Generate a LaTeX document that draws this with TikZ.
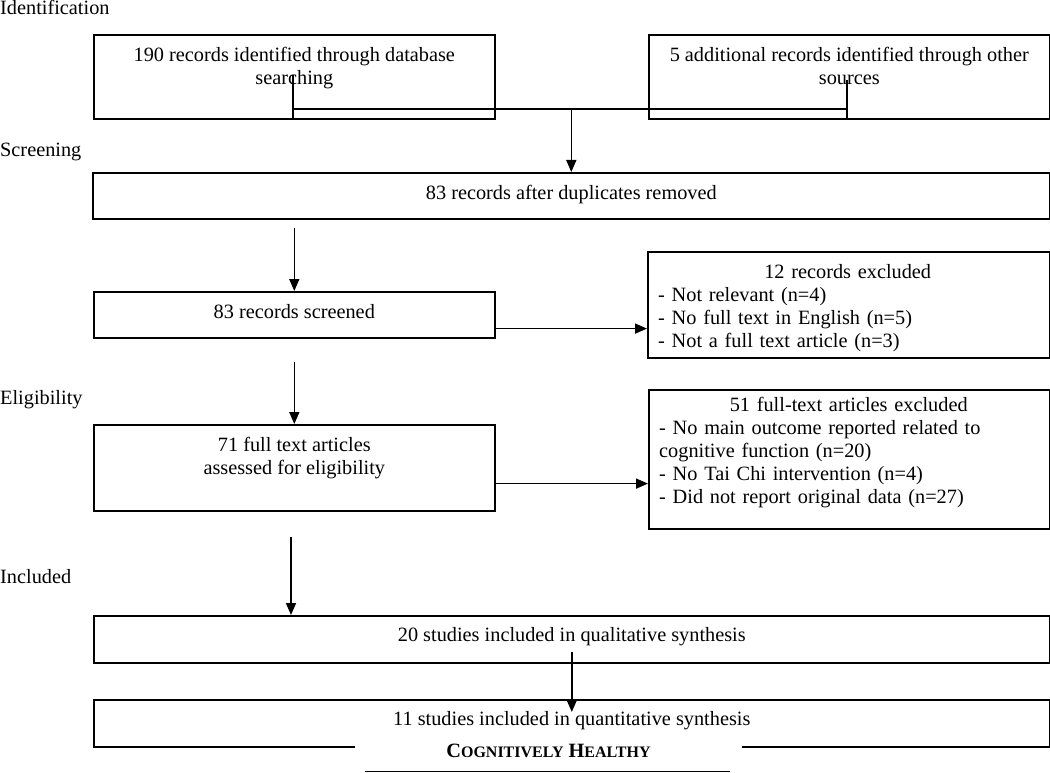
\documentclass[tikz,border=0pt]{standalone}
\usepackage{fontspec}
\setmainfont{Liberation Serif}
\usetikzlibrary{arrows.meta,positioning,calc}

\begin{document}
\begin{tikzpicture}[x=1pt,y=-1pt,
    every node/.style={font=\fontsize{20.3}{23}\selectfont},
    box/.style={draw, line width=1.6pt, anchor=north west, inner sep=0pt},
    boxtext/.style={anchor=north, align=center, inner sep=0pt},
    listtext/.style={anchor=north west, align=left, inner sep=0pt, text width=379pt},
    stage/.style={anchor=base west, inner sep=0pt},
    flow/.style={-{Triangle[length=12pt,width=10pt]}, line width=1.6pt},
    link/.style={line width=1.6pt}]
    \useasboundingbox (0,0) rectangle (1050,773);

    % Stage labels
    \node[stage] (lblident) at (0,15) {Identification};
    \node[stage] (lblscreen) at (0,157) {Screening};
    \node[stage] (lblelig) at (0,404) {Eligibility};
    \node[stage] (lblincl) at (0,583) {Included};

    % Identification
    \node[box, minimum width=401pt, minimum height=84pt] (ident) at (93,34) {};
    \node[boxtext] (identtxt) at ($(ident.north)+(0,13)$) {190 records identified through database\\searching};
    \node[box, minimum width=401pt, minimum height=84pt] (other) at (648,34) {};
    \node[boxtext] (othertxt) at ($(other.north)+(0,13)$) {5 additional records identified through other\\sources};

    % Screening
    \node[box, minimum width=957pt, minimum height=46pt] (dedup) at (92,172) {};
    \node[boxtext] (deduptxt) at ($(dedup.north)+(0,13)$) {83 records after duplicates removed};
    \node[box, minimum width=401pt, minimum height=46pt] (screened) at (93,291) {};
    \node[boxtext] (screenedtxt) at ($(screened.north)+(0,13)$) {83 records screened};
    \node[box, minimum width=402pt, minimum height=106pt] (excl1) at (647,251) {};
    \node[listtext] (excl1txt) at ($(excl1.north west)+(11,13)$) {\makebox[\linewidth]{12 records excluded}\\
        - Not relevant (n=4)\\- No full text in English (n=5)\\- Not a full text article (n=3)};

    % Eligibility
    \node[box, minimum width=401pt, minimum height=86pt] (fulltext) at (93,424) {};
    \node[boxtext] (fulltexttxt) at ($(fulltext.north)+(0,13)$) {71 full text articles\\assessed for eligibility};
    \node[box, minimum width=401pt, minimum height=139pt] (excl2) at (648,389) {};
    \node[listtext] (excl2txt) at ($(excl2.north west)+(11,8)$) {\makebox[\linewidth]{51 full-text articles excluded}\\
        - No main outcome reported related to\\cognitive function (n=20)\\- No Tai Chi intervention (n=4)\\- Did not report original data (n=27)};

    % Included
    \node[box, minimum width=956pt, minimum height=47pt] (qual) at (93,615) {};
    \node[boxtext] (qualtxt) at ($(qual.north)+(0,12)$) {20 studies included in qualitative synthesis};
    \node[box, minimum width=956pt, minimum height=47pt] (quant) at (93,699) {};
    \node[boxtext] (quanttxt) at ($(quant.north)+(0,12)$) {11 studies included in quantitative synthesis};

    % Joining the two sources
    \coordinate (identdrop) at (293,75);
    \coordinate (otherdrop) at (847,80);
    \coordinate (joinL) at (293,109);
    \coordinate (joinR) at (847,109);
    \draw[link] (identdrop) -- (identdrop |- ident.south);
    \draw[link] (otherdrop) -- (otherdrop |- other.south);
    \draw[link] (joinL) -- (joinR);
    \draw[flow] (joinL -| dedup.north) -- (dedup.north);

    % Flow arrows
    \draw[flow] ($(screened.north)+(0,-63)$) -- (screened.north);
    \coordinate (toexcl1) at ($(screened.south east)+(0,-10)$);
    \draw[flow] (toexcl1) -- (toexcl1 -| excl1.west);
    \draw[flow] ($(fulltext.north)+(0,-62)$) -- (fulltext.north);
    \coordinate (toexcl2) at ($(fulltext.south east)+(0,-28)$);
    \draw[flow] (toexcl2) -- (toexcl2 -| excl2.west);
    \coordinate (toqual) at ($(qual.north west)+(198,-78)$);
    \draw[flow] (toqual) -- (toqual |- qual.north);
    \draw[flow] ($(qual.south)+(0,-12)$) -- ($(quant.north)+(0,13)$);

    % Running head over the last box
    \node[fill=white, minimum width=387pt, minimum height=20pt, anchor=north, inner sep=0pt] (runhead) at (548.5,741)
        {\bfseries C{\fontsize{16}{16}\selectfont OGNITIVELY} H{\fontsize{16}{16}\selectfont EALTHY}};
    \draw[line width=1pt] ($(runhead.south west)+(10,10)$) -- ($(runhead.south east)+(-12,10)$);
\end{tikzpicture}
\end{document}
